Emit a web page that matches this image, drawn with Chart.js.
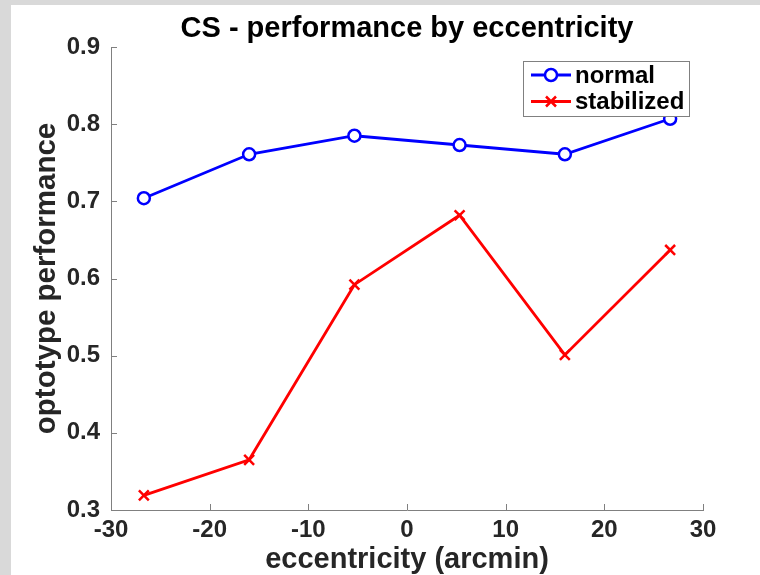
<!DOCTYPE html>
<html>
<head>
<meta charset="utf-8">
<title>CS - performance by eccentricity</title>
<script src="https://cdn.jsdelivr.net/npm/chart.js@4.4.0/dist/chart.umd.min.js"></script>
<style>
  html, body { margin: 0; padding: 0; background: #d9d9d9; }
  #wrap { width: 760px; height: 575px; }
</style>
</head>
<body>
<div id="wrap"><canvas id="perfChart" width="760" height="575"></canvas></div>
<script>
// eccentricity bins (arcmin) and mean optotype performance per condition
const eccentricity = [-26.67, -16, -5.33, 5.33, 16, 26.67];
const normalPerf = [0.704, 0.761, 0.785, 0.773, 0.761, 0.807];
const stabilizedPerf = [0.319, 0.365, 0.592, 0.682, 0.501, 0.637];
const xTicks = [-30, -20, -10, 0, 10, 20, 30];
const yTicks = [0.3, 0.4, 0.5, 0.6, 0.7, 0.8, 0.9];

const FONT = "'Liberation Sans', Arial, Helvetica, sans-serif";
const AXIS_GRAY = "#808080";
const TEXT_DARK = "#262626";

const toPoints = (xs, ys) => xs.map((x, i) => ({ x: x, y: ys[i] }));

// figure background: grey margin on top/left, white canvas area
const figureBg = {
  id: "figureBg",
  beforeDraw(chart) {
    const ctx = chart.ctx;
    ctx.save();
    ctx.fillStyle = "#d9d9d9";
    ctx.fillRect(0, 0, chart.width, chart.height);
    ctx.fillStyle = "#ffffff";
    ctx.fillRect(11, 5, chart.width - 11, chart.height - 5);
    ctx.restore();
  }
};

// matlab style tick marks pointing into the axes
const innerTicks = {
  id: "innerTicks",
  afterDatasetsDraw(chart) {
    const { ctx, chartArea, scales } = chart;
    const len = 6;
    ctx.save();
    ctx.strokeStyle = AXIS_GRAY;
    ctx.lineWidth = 1;
    ctx.beginPath();
    xTicks.forEach(v => {
      const px = Math.round(scales.x.getPixelForValue(v)) + 0.5;
      ctx.moveTo(px, chartArea.bottom);
      ctx.lineTo(px, chartArea.bottom - len);
    });
    yTicks.forEach(v => {
      const py = Math.round(scales.y.getPixelForValue(v)) + 0.5;
      ctx.moveTo(chartArea.left, py);
      ctx.lineTo(chartArea.left + len, py);
    });
    ctx.stroke();
    ctx.restore();
  }
};

function drawMarker(ctx, style, x, y, r) {
  ctx.beginPath();
  if (style === "circle") {
    ctx.arc(x, y, r, 0, Math.PI * 2);
    ctx.fillStyle = "#fff";
    ctx.fill();
  } else {
    ctx.moveTo(x - r, y - r); ctx.lineTo(x + r, y + r);
    ctx.moveTo(x - r, y + r); ctx.lineTo(x + r, y - r);
  }
  ctx.stroke();
}

// boxed legend in the upper right corner of the axes
const boxLegend = {
  id: "boxLegend",
  afterDraw(chart) {
    const { ctx, chartArea } = chart;
    const w = 166, h = 55;
    const left = chartArea.right - 14 - w;
    const top = chartArea.top + 14;
    ctx.save();
    ctx.fillStyle = "#fff";
    ctx.fillRect(left, top, w, h);
    ctx.strokeStyle = AXIS_GRAY;
    ctx.lineWidth = 1;
    ctx.strokeRect(left + 0.5, top + 0.5, w, h);
    ctx.font = "bold 24px " + FONT;
    ctx.textBaseline = "middle";
    ctx.textAlign = "left";
    chart.data.datasets.forEach((ds, i) => {
      const y = top + 14 + i * 26.5;
      ctx.strokeStyle = ds.borderColor;
      ctx.lineWidth = 2.8;
      ctx.beginPath();
      ctx.moveTo(left + 8, y);
      ctx.lineTo(left + 48, y);
      ctx.stroke();
      ctx.lineWidth = 2.5;
      drawMarker(ctx, ds.pointStyle, left + 28, y, ds.pointStyle === "circle" ? 6 : 5);
      ctx.fillStyle = "#000";
      ctx.fillText(ds.label, left + 52, y + 1);
    });
    ctx.restore();
  }
};

new Chart(document.getElementById("perfChart"), {
  type: "line",
  data: {
    datasets: [
      {
        label: "normal",
        data: toPoints(eccentricity, normalPerf),
        borderColor: "#0000ff",
        borderWidth: 2.8,
        pointStyle: "circle",
        pointRadius: 6,
        pointBorderWidth: 2.5,
        pointBackgroundColor: "#ffffff",
        pointBorderColor: "#0000ff",
        tension: 0
      },
      {
        label: "stabilized",
        data: toPoints(eccentricity, stabilizedPerf),
        borderColor: "#ff0000",
        borderWidth: 2.8,
        pointStyle: "crossRot",
        pointRadius: 7,
        pointBorderWidth: 2.5,
        pointBorderColor: "#ff0000",
        tension: 0
      }
    ]
  },
  options: {
    responsive: false,
    animation: false,
    layout: { padding: { left: 0, top: 0, right: 57, bottom: 0 } },
    plugins: {
      legend: { display: false },
      tooltip: { enabled: false },
      title: {
        display: true,
        text: "CS - performance by eccentricity",
        fullSize: false,
        color: "#000",
        font: { family: FONT, size: 29, weight: "bold", lineHeight: 1.2 },
        padding: { top: 12, bottom: 0.2 }
      }
    },
    scales: {
      x: {
        type: "linear",
        min: -30,
        max: 30,
        afterFit(scale) { scale.height = 65; },
        afterBuildTicks(scale) { scale.ticks = xTicks.map(v => ({ value: v })); },
        grid: { display: false, drawTicks: false },
        border: { display: true, color: AXIS_GRAY, width: 1 },
        ticks: {
          color: TEXT_DARK,
          padding: 6,
          maxRotation: 0,
          font: { family: FONT, size: 24, weight: "bold" }
        },
        title: {
          display: true,
          text: "eccentricity (arcmin)",
          color: TEXT_DARK,
          font: { family: FONT, size: 29, weight: "bold", lineHeight: 1 },
          padding: { top: 0, bottom: 1 }
        }
      },
      y: {
        type: "linear",
        min: 0.3,
        max: 0.9,
        afterFit(scale) { scale.width = 111; },
        afterBuildTicks(scale) { scale.ticks = yTicks.map(v => ({ value: v })); },
        grid: { display: false, drawTicks: false },
        border: { display: true, color: AXIS_GRAY, width: 1 },
        ticks: {
          color: TEXT_DARK,
          padding: 11,
          font: { family: FONT, size: 24, weight: "bold" },
          callback: v => v.toFixed(1)
        },
        title: {
          display: true,
          text: "optotype performance",
          color: TEXT_DARK,
          font: { family: FONT, size: 29.5, weight: "bold", lineHeight: 1.2 },
          padding: { top: 29, bottom: 0 }
        }
      }
    }
  },
  plugins: [figureBg, innerTicks, boxLegend]
});
</script>
</body>
</html>
